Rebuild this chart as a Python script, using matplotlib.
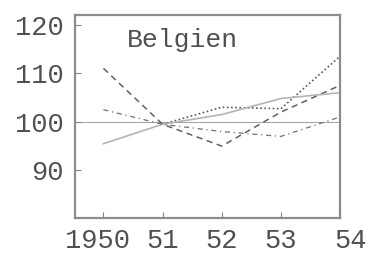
import matplotlib

matplotlib.use("Agg", force=True)

import matplotlib.pyplot as plt
import matplotlib.transforms as mtransforms
import numpy as np

YEARS = [1950, 1951, 1952, 1953, 1954]
X_LABELS = ["1950", "51", "52", "53", "54"]
Y_TICKS = [90, 100, 110, 120]

# index values (1951 = 100)
DASHED = [111.0, 99.5, 95.0, 102.0, 107.5]
DOTTED = [np.nan, 99.5, 103.0, 102.7, 113.5]
SOLID = [95.5, 99.5, 101.5, 104.8, 106.0]
DASHDOT = [102.5, 99.5, 98.0, 97.0, 101.0]

FONT = "Liberation Mono"
INK = "#505050"

fig = plt.figure(figsize=(3.68, 2.58), dpi=100)
ax = fig.add_axes([0.204, 0.155, 0.72, 0.787])

ax.axhline(100, color="#a0a0a0", linewidth=0.7, zorder=1)

ax.plot(YEARS, DASHED, color="#606060", linewidth=1.1, linestyle=(0, (4, 3)))
ax.plot(YEARS, DOTTED, color="#5a5a5a", linewidth=1.2, linestyle=(0, (1, 1.5)))
ax.plot(YEARS, SOLID, color="#b4b4b4", linewidth=1.2)
ax.plot(YEARS, DASHDOT, color="#707070", linewidth=0.9, linestyle=(0, (4, 3, 1, 3)))

ax.set_xlim(1949.52, 1954.0)
ax.set_ylim(80.2, 122.0)

ax.set_xticks(YEARS)
ax.set_xticklabels(X_LABELS)
ax.set_yticks(Y_TICKS)

ax.tick_params(axis="both", direction="in", length=4, width=0.8, color="#808080",
               labelsize=19.5, labelcolor=INK)
ax.tick_params(axis="x", pad=7)
ax.tick_params(axis="y", pad=8)
for label in ax.get_xticklabels() + ax.get_yticklabels():
    label.set_fontfamily(FONT)

# the typed labels sit a little off their ticks at both ends
x_labels = ax.get_xticklabels()
for label, dx in ((x_labels[0], -6), (x_labels[-1], 11)):
    shift = mtransforms.ScaledTranslation(dx / 100, 0, fig.dpi_scale_trans)
    label.set_transform(label.get_transform() + shift)

for spine in ax.spines.values():
    spine.set_color("#8c8c8c")
    spine.set_linewidth(1.6)

ax.text(0.196, 0.875, "Belgien", transform=ax.transAxes, fontsize=19,
        fontfamily=FONT, color=INK, ha="left", va="center")

fig.savefig("out.png", dpi=100)
